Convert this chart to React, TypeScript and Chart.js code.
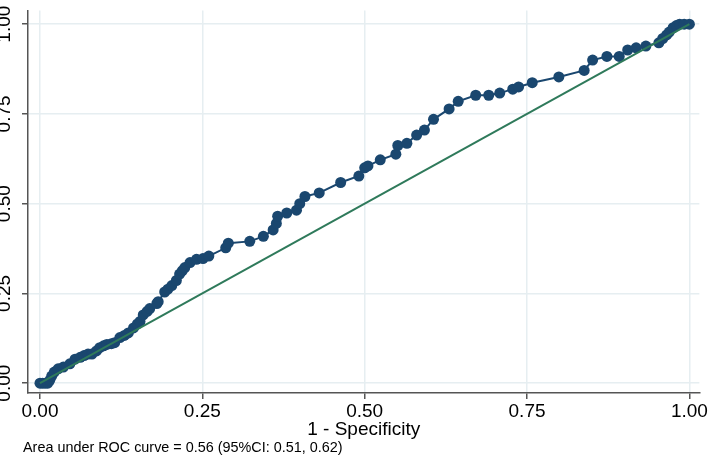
import React, { useEffect, useRef } from "react";
import { Chart, registerables } from "chart.js";

Chart.register(...registerables);

// 1 - Specificity (false positive rate)
const fpr: number[] = [
  0, 0.004, 0.008, 0.012, 0.015, 0.018, 0.022, 0.028, 0.036, 0.046, 0.054, 0.062, 0.068, 0.074, 0.08,
  0.087, 0.092, 0.098, 0.103, 0.11, 0.115, 0.123, 0.13, 0.136, 0.144, 0.15, 0.154, 0.159, 0.165, 0.169,
  0.18, 0.182, 0.192, 0.197, 0.203, 0.21, 0.215, 0.219, 0.223, 0.231, 0.241, 0.251, 0.26, 0.286, 0.29,
  0.323, 0.344, 0.359, 0.364, 0.366, 0.38, 0.395, 0.4, 0.408, 0.43, 0.463, 0.491, 0.5, 0.505, 0.524,
  0.548, 0.551, 0.565, 0.58, 0.592, 0.606, 0.63, 0.644, 0.671, 0.691, 0.708, 0.728, 0.737, 0.758, 0.799,
  0.838, 0.851, 0.873, 0.892, 0.905, 0.918, 0.933, 0.953, 0.959, 0.965, 0.969, 0.975, 0.98, 0.985, 0.992, 1,
];
// Sensitivity (true positive rate)
const tpr: number[] = [
  0, 0, 0, 0, 0.008, 0.02, 0.031, 0.04, 0.045, 0.054, 0.067, 0.072, 0.077, 0.081, 0.081,
  0.09, 0.099, 0.104, 0.108, 0.11, 0.113, 0.127, 0.133, 0.14, 0.154, 0.165, 0.172, 0.19, 0.2, 0.208,
  0.222, 0.227, 0.254, 0.262, 0.272, 0.286, 0.304, 0.313, 0.322, 0.336, 0.345, 0.347, 0.354, 0.377, 0.39,
  0.395, 0.409, 0.427, 0.445, 0.465, 0.474, 0.482, 0.5, 0.52, 0.53, 0.559, 0.577, 0.6, 0.605, 0.622,
  0.638, 0.662, 0.668, 0.691, 0.705, 0.735, 0.764, 0.785, 0.802, 0.802, 0.808, 0.819, 0.825, 0.837, 0.853,
  0.871, 0.9, 0.91, 0.91, 0.928, 0.934, 0.939, 0.948, 0.96, 0.97, 0.978, 0.99, 0.996, 1, 1, 1,
];
const refX: number[] = [0, 1];
const refY: number[] = [0, 1];
const tickValues: number[] = [0, 0.25, 0.5, 0.75, 1];
const xTitle = "1 - Specificity";
const note = "Area under ROC curve = 0.56 (95%CI: 0.51, 0.62)";

const FONT = '"Liberation Sans", Arial, Helvetica, sans-serif';
const NAVY = "#1a476f";
const GREEN = "#2f7a5b";
const GRID = "#e6eef1";
const AXIS = "#555555";

export default function App() {
  const ref = useRef<HTMLCanvasElement | null>(null);
  useEffect(() => {
    if (!ref.current) return;
    const notePlugin = {
      id: "notePlugin",
      afterDraw(chart: any) {
        const ctx = chart.ctx;
        ctx.save();
        ctx.fillStyle = "#000";
        ctx.font = `14.4px ${FONT}`;
        ctx.textBaseline = "middle";
        ctx.textAlign = "left";
        ctx.fillText(note, 23, 448);
        ctx.restore();
      },
    };
    const setTicks = (scale: any) => {
      scale.ticks = tickValues.map((v) => ({ value: v }));
    };
    const chart = new Chart(ref.current, {
      type: "scatter",
      data: {
        datasets: [
          {
            data: refX.map((x, i) => ({ x, y: refY[i] })),
            showLine: true,
            borderColor: GREEN,
            borderWidth: 2,
            pointRadius: 0,
          },
          {
            data: fpr.map((x, i) => ({ x, y: tpr[i] })),
            showLine: true,
            borderColor: NAVY,
            borderWidth: 2,
            pointRadius: 5.5,
            pointBackgroundColor: NAVY,
            pointBorderColor: NAVY,
            pointBorderWidth: 0,
          },
        ],
      },
      options: {
        animation: false,
        responsive: false,
        layout: { padding: { top: 3, right: 9, left: 0, bottom: 0 } },
        plugins: { legend: { display: false }, tooltip: { enabled: false }, title: { display: false } },
        scales: {
          x: {
            type: "linear",
            min: -0.01846,
            max: 1.01538,
            afterBuildTicks: setTicks,
            afterFit: (s: any) => {
              s.height = 67;
            },
            border: { display: true, color: AXIS, width: 1.5 },
            grid: { color: GRID, lineWidth: 1.5, tickColor: AXIS, tickLength: 6, drawTicks: true },
            ticks: {
              padding: 1,
              color: "#000",
              font: { family: FONT, size: 19 },
              maxRotation: 0,
              minRotation: 0,
              callback: (v: any) => Number(v).toFixed(2),
            },
            title: {
              display: true,
              text: xTitle,
              color: "#000",
              font: { family: FONT, size: 19 },
              padding: { top: 0, bottom: 19 },
            },
          },
          y: {
            type: "linear",
            min: -0.0273,
            max: 1.0383,
            afterBuildTicks: setTicks,
            afterFit: (s: any) => {
              s.width = 28;
            },
            border: { display: true, color: AXIS, width: 1.5 },
            grid: { color: GRID, lineWidth: 1.5, tickColor: AXIS, tickLength: 6, drawTicks: true },
            ticks: {
              padding: -1,
              crossAlign: "center",
              minRotation: 90,
              maxRotation: 90,
              color: "#000",
              font: { family: FONT, size: 19 },
              callback: (v: any) => Number(v).toFixed(2),
            },
          },
        },
      },
      plugins: [notePlugin],
    } as any);
    return () => chart.destroy();
  }, []);
  return (
    <div style={{ position: "fixed", left: 0, top: 0, width: 709, height: 460, background: "#fff" }}>
      <canvas ref={ref} width={709} height={460} style={{ width: 709, height: 460, display: "block" }} />
    </div>
  );
}
